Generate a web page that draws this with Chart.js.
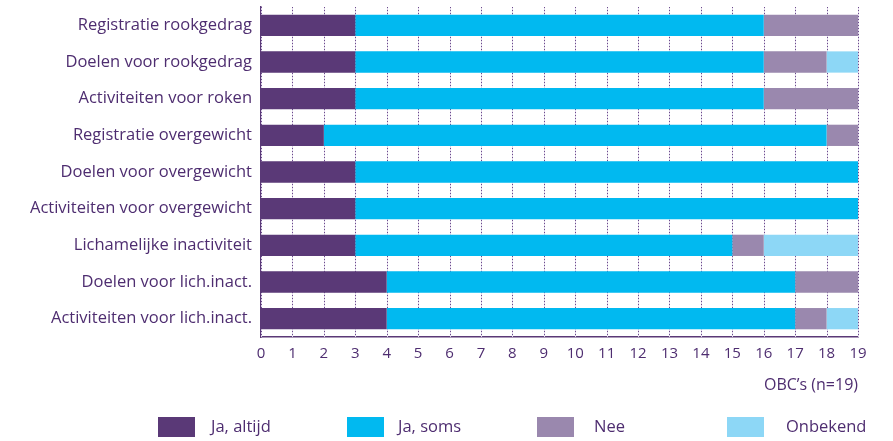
<!DOCTYPE html>
<html>
<head>
<meta charset="utf-8">
<script src="https://cdn.jsdelivr.net/npm/chart.js@4/dist/chart.umd.min.js"></script>
<style>
  html, body { margin: 0; padding: 0; background: #fff; }
  #wrap { position: relative; width: 893px; height: 441px; }
  #legend { position: absolute; left: 0; top: 417px; width: 893px; height: 22px; font-family: "Open Sans", sans-serif; font-size: 16.5px; color: #4e2d70; }
  .box { position: absolute; top: 0; width: 37px; height: 20px; }
  .lbl { position: absolute; top: -2px; line-height: 22px; white-space: nowrap; }
</style>
</head>
<body>
<div id="wrap">
  <canvas id="c" width="893" height="441"></canvas>
  <div id="legend"></div>
</div>
<script>
const categories = [
  "Registratie rookgedrag",
  "Doelen voor rookgedrag",
  "Activiteiten voor roken",
  "Registratie overgewicht",
  "Doelen voor overgewicht",
  "Activiteiten voor overgewicht",
  "Lichamelijke inactiviteit",
  "Doelen voor lich.inact.",
  "Activiteiten voor lich.inact."
];
const seriesNames = ["Ja, altijd", "Ja, soms", "Nee", "Onbekend"];
const jaAltijd = [3, 3, 3, 2, 3, 3, 3, 4, 4];
const jaSoms   = [13, 13, 13, 16, 16, 16, 12, 13, 13];
const nee      = [3, 2, 3, 1, 0, 0, 1, 2, 1];
const onbekend = [0, 1, 0, 0, 0, 0, 3, 0, 1];
const xTickLabels = ["0","1","2","3","4","5","6","7","8","9","10","11","12","13","14","15","16","17","18","19"];
const axisTitle = "OBC\u2019s (n=19)";

const colors = ["#5a3977", "#01b9f0", "#9a88ae", "#8dd7f6"];
const textColor = "#4e2d70";
const values = [jaAltijd, jaSoms, nee, onbekend];

const datasets = seriesNames.map((name, i) => ({
  label: name,
  data: values[i],
  backgroundColor: colors[i],
  borderWidth: 0,
  barPercentage: 0.58,
  categoryPercentage: 1.0
}));

// dotted vertical grid lines at the x scale's ticks: faint stripe + darker dots
const dottedGrid = {
  id: "dottedGrid",
  beforeDatasetsDraw(chart) {
    const { ctx, chartArea } = chart;
    const xs = chart.scales.x;
    ctx.save();
    xs.ticks.forEach((t) => {
      const px = Math.round(xs.getPixelForValue(t.value)) + 0.5;
      ctx.lineWidth = 1;
      ctx.setLineDash([]);
      ctx.strokeStyle = "#ddd3e7";
      ctx.beginPath();
      ctx.moveTo(px, chartArea.top);
      ctx.lineTo(px, chartArea.bottom);
      ctx.stroke();
      ctx.setLineDash([1, 2]);
      ctx.strokeStyle = "#6a4a8c";
      ctx.beginPath();
      ctx.moveTo(px, chartArea.top);
      ctx.lineTo(px, chartArea.bottom);
      ctx.stroke();
    });
    ctx.restore();
  }
};

new Chart(document.getElementById("c"), {
  type: "bar",
  data: { labels: categories, datasets },
  plugins: [dottedGrid],
  options: {
    indexAxis: "y",
    responsive: false,
    animation: false,
    layout: { padding: { left: 0, right: 35, top: 7, bottom: 0 } },
    plugins: { legend: { display: false }, tooltip: { enabled: false } },
    scales: {
      x: {
        stacked: true,
        min: 0,
        max: 19,
        ticks: {
          stepSize: 1,
          autoSkip: false,
          maxRotation: 0,
          padding: 8,
          color: textColor,
          font: { family: "Open Sans", size: 15 },
          callback: (v, i) => xTickLabels[i]
        },
        grid: { display: false, drawTicks: false },
        border: { display: true, color: "#5a3977", width: 1.5 },
        title: {
          display: true,
          text: axisTitle,
          align: "end",
          color: textColor,
          font: { family: "Open Sans", size: 16 },
          padding: { top: 0, bottom: 46 }
        },
        afterFit: (s) => { s.height = 104; }
      },
      y: {
        stacked: true,
        grid: { display: false, drawTicks: false },
        border: { display: true, color: "#5a3977", width: 1.5 },
        ticks: {
          padding: 9,
          color: textColor,
          font: { family: "Open Sans", size: 16.5 }
        },
        afterFit: (s) => { s.width = 261; s.paddingTop = 0; s.paddingBottom = 0; }
      }
    }
  }
});

// HTML legend built from series names and colours
const legendBoxX = [158, 347, 537, 727];
const legendTextX = [211, 398, 594, 786];
const legendEl = document.getElementById("legend");
seriesNames.forEach((name, i) => {
  const b = document.createElement("div");
  b.className = "box";
  b.style.left = legendBoxX[i] + "px";
  b.style.background = colors[i];
  const t = document.createElement("span");
  t.className = "lbl";
  t.style.left = legendTextX[i] + "px";
  t.textContent = name;
  legendEl.appendChild(b);
  legendEl.appendChild(t);
});
</script>
</body>
</html>
